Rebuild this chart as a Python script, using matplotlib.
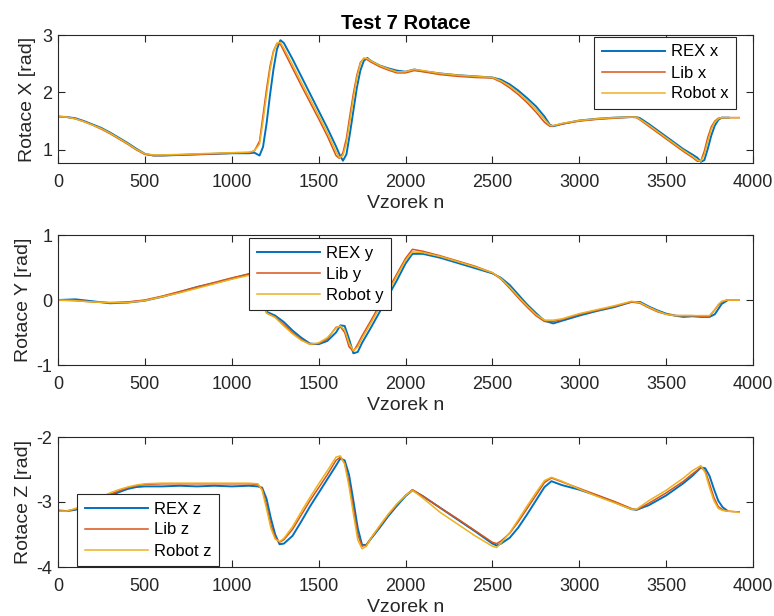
import numpy as np
import matplotlib
matplotlib.use("Agg")
import matplotlib.pyplot as plt

nan = np.nan

# ---------------- Rotace X ----------------
n_x = [0, 50, 100, 150, 200, 250, 300, 350, 400, 450, 500, 550, 600,
       700, 800, 900, 1000, 1100,
       1130, 1160, 1180,
       1200, 1220, 1240, 1260, 1280, 1300,
       1350, 1400, 1450, 1500, 1550, 1600,
       1620, 1640, 1660, 1680, 1700, 1720, 1740, 1760, 1780, 1800,
       1850, 1900, 1950, 2000, 2050, 2100,
       2200, 2300, 2400, 2500,
       2550, 2600, 2650, 2700, 2750, 2800,
       2830, 2850, 2900,
       3000, 3100, 3200, 3300,
       3330, 3350,
       3400, 3450, 3500, 3550, 3600, 3650,
       3680, 3700, 3720, 3740, 3760, 3780, 3800, 3820, 3840, 3860,
       3900, 3920]
rex_x = [1.58, 1.57, 1.55, 1.50, 1.44, 1.38, 1.30, 1.21, 1.12, 1.02, 0.93, 0.90, 0.90,
         0.91, 0.92, 0.93, 0.94, 0.94,
         0.95, 0.90, 1.05,
         1.45, 1.95, 2.40, 2.75, 2.91, 2.86,
         2.58, 2.28, 1.98, 1.68, 1.38, 1.06,
         0.92, 0.81, 0.92, 1.28, 1.68, 2.08, 2.38, 2.55, 2.60, 2.55,
         2.47, 2.42, 2.38, 2.36, 2.40, 2.37,
         2.33, 2.30, 2.28, 2.26,
         2.22, 2.14, 2.03, 1.90, 1.76, 1.58,
         1.44, 1.41, 1.45,
         1.51, 1.54, 1.56, 1.57,
         1.57, 1.55,
         1.45, 1.34, 1.23, 1.12, 1.01, 0.92,
         0.86, 0.79, 0.82, 1.02, 1.25, 1.42, 1.52, 1.56, 1.56, 1.56,
         nan, nan]
lib_x = [1.58, 1.57, 1.54, 1.49, 1.43, 1.36, 1.28, 1.19, 1.10, 1.00, 0.92, 0.90, 0.90,
         0.91, 0.92, 0.93, 0.94, 0.95,
         0.98, 1.15, 1.60,
         2.05, 2.45, 2.72, 2.85, 2.84, 2.72,
         2.42, 2.12, 1.83, 1.54, 1.24, 0.90,
         0.85, 0.95, 1.20, 1.60, 1.98, 2.30, 2.52, 2.59, 2.57, 2.53,
         2.45, 2.39, 2.34, 2.34, 2.38, 2.36,
         2.31, 2.28, 2.26, 2.25,
         2.18, 2.08, 1.96, 1.82, 1.66, 1.48,
         1.41, 1.42, 1.45,
         1.50, 1.53, 1.55, 1.57,
         1.56, 1.52,
         1.41, 1.30, 1.19, 1.08, 0.97, 0.87,
         0.80, 0.81, 0.98, 1.22, 1.40, 1.50, 1.55, 1.56, 1.56, 1.56,
         1.56, 1.56]
robot_x = [1.58, 1.57, 1.54, 1.49, 1.43, 1.37, 1.29, 1.20, 1.11, 1.01, 0.93, 0.91, 0.91,
           0.92, 0.93, 0.94, 0.95, 0.96,
           0.98, 1.10, 1.50,
           1.95, 2.38, 2.70, 2.86, 2.87, 2.77,
           2.48, 2.18, 1.89, 1.60, 1.30, 0.97,
           0.86, 0.90, 1.12, 1.50, 1.90, 2.25, 2.50, 2.60, 2.59, 2.55,
           2.47, 2.41, 2.36, 2.36, 2.40, 2.38,
           2.33, 2.30, 2.28, 2.26,
           2.20, 2.11, 1.99, 1.86, 1.71, 1.53,
           1.43, 1.42, 1.46,
           1.51, 1.54, 1.56, 1.57,
           1.57, 1.53,
           1.43, 1.32, 1.21, 1.10, 0.99, 0.89,
           0.82, 0.80, 0.92, 1.15, 1.36, 1.48, 1.54, 1.56, 1.56, 1.56,
           1.56, 1.56]

# ---------------- Rotace Y ----------------
n_y = [0, 100, 200, 300, 400, 500, 600, 700, 800, 900, 1000, 1100, 1150, 1180,
       1200, 1250, 1300, 1350, 1400, 1450, 1500, 1550, 1600, 1625, 1650, 1675,
       1700, 1725, 1750, 1800, 1850, 1900, 1950, 2000, 2040, 2100, 2200, 2300,
       2400, 2500, 2550, 2600, 2650, 2700, 2750, 2800, 2850, 2900, 3000, 3100,
       3200, 3300, 3350, 3400, 3450, 3500, 3550, 3600, 3650, 3700, 3750, 3780,
       3800, 3820, 3850, 3900, 3920]
rex_y = [0.00, 0.01, -0.02, -0.05, -0.04, -0.01, 0.05, 0.12, 0.20, 0.26, 0.33, 0.40, 0.43, 0.20,
         -0.18, -0.24, -0.34, -0.47, -0.58, -0.67, -0.68, -0.63, -0.50, -0.39, -0.40, -0.60,
         -0.82, -0.80, -0.66, -0.43, -0.19, 0.06, 0.30, 0.56, 0.71, 0.71, 0.65, 0.57,
         0.49, 0.41, 0.34, 0.23, 0.08, -0.07, -0.20, -0.32, -0.36, -0.32, -0.24, -0.17,
         -0.11, -0.03, -0.03, -0.10, -0.16, -0.21, -0.24, -0.26, -0.25, -0.26, -0.26, -0.22,
         -0.14, -0.06, -0.01, nan, nan]
lib_y = [0.00, -0.01, -0.03, -0.04, -0.03, 0.00, 0.06, 0.13, 0.20, 0.27, 0.34, 0.40, 0.43, 0.10,
         -0.20, -0.26, -0.38, -0.50, -0.61, -0.68, -0.67, -0.60, -0.42, -0.41, -0.50, -0.72,
         -0.79, -0.68, -0.55, -0.32, -0.08, 0.16, 0.40, 0.64, 0.78, 0.75, 0.68, 0.60,
         0.52, 0.42, 0.32, 0.18, 0.03, -0.11, -0.24, -0.33, -0.33, -0.30, -0.22, -0.16,
         -0.10, -0.03, -0.05, -0.12, -0.18, -0.22, -0.24, -0.24, -0.24, -0.25, -0.25, -0.15,
         -0.08, -0.03, 0.00, 0.00, 0.00]
robot_y = [0.00, -0.01, -0.03, -0.04, -0.04, -0.01, 0.05, 0.11, 0.18, 0.25, 0.32, 0.38, 0.42, 0.10,
           -0.20, -0.27, -0.40, -0.52, -0.62, -0.68, -0.66, -0.58, -0.43, -0.40, -0.46, -0.66,
           -0.78, -0.72, -0.59, -0.36, -0.12, 0.12, 0.37, 0.61, 0.74, 0.73, 0.67, 0.59,
           0.51, 0.42, 0.33, 0.20, 0.05, -0.09, -0.22, -0.31, -0.31, -0.29, -0.21, -0.15,
           -0.09, -0.02, -0.04, -0.11, -0.17, -0.22, -0.24, -0.24, -0.24, -0.24, -0.24, -0.15,
           -0.07, -0.02, 0.00, 0.00, 0.00]

# ---------------- Rotace Z ----------------
n_z = [0, 50, 100, 150, 200, 250, 300, 350, 400, 450, 500, 600, 700, 800, 900,
       1000, 1100, 1150, 1175, 1200, 1225, 1250, 1275, 1300, 1350, 1400, 1450,
       1500, 1550, 1600, 1625, 1650, 1675, 1700, 1725, 1750, 1775, 1800, 1850,
       1900, 1950, 2000, 2040, 2100, 2200, 2300, 2400, 2500, 2525, 2550, 2600,
       2650, 2700, 2750, 2800, 2840, 2900, 3000, 3100, 3200, 3300, 3330, 3400,
       3500, 3600, 3650, 3700, 3725, 3750, 3775, 3800, 3825, 3850, 3900, 3920]
rex_z = [-3.13, -3.14, -3.12, -3.08, -3.02, -2.96, -2.90, -2.85, -2.80, -2.77, -2.76, -2.76, -2.75, -2.76, -2.75,
         -2.76, -2.75, -2.76, -2.78, -2.95, -3.25, -3.50, -3.65, -3.64, -3.52, -3.30, -3.07,
         -2.86, -2.65, -2.44, -2.33, -2.36, -2.58, -2.98, -3.40, -3.66, -3.66, -3.57, -3.40,
         -3.22, -3.06, -2.91, -2.82, -2.91, -3.09, -3.27, -3.45, -3.64, -3.67, -3.64, -3.55,
         -3.39, -3.19, -2.98, -2.77, -2.68, -2.74, -2.81, -2.90, -3.00, -3.11, -3.12, -3.05,
         -2.90, -2.71, -2.60, -2.47, -2.48, -2.60, -2.80, -2.98, -3.08, -3.13, nan, nan]
lib_z = [-3.14, -3.14, -3.11, -3.06, -3.00, -2.94, -2.88, -2.83, -2.78, -2.75, -2.73, -2.72, -2.72, -2.72, -2.72,
         -2.72, -2.72, -2.73, -2.80, -3.05, -3.35, -3.55, -3.62, -3.58, -3.42, -3.20, -2.98,
         -2.78, -2.58, -2.36, -2.31, -2.40, -2.70, -3.10, -3.50, -3.68, -3.66, -3.56, -3.38,
         -3.20, -3.04, -2.90, -2.81, -2.91, -3.09, -3.26, -3.44, -3.62, -3.64, -3.60, -3.48,
         -3.30, -3.10, -2.90, -2.70, -2.63, -2.69, -2.79, -2.89, -2.99, -3.10, -3.12, -3.02,
         -2.86, -2.68, -2.57, -2.47, -2.52, -2.72, -2.93, -3.07, -3.12, -3.14, -3.15, -3.15]
robot_z = [-3.14, -3.14, -3.10, -3.04, -2.98, -2.92, -2.86, -2.81, -2.77, -2.74, -2.72, -2.71, -2.71, -2.71, -2.71,
           -2.71, -2.71, -2.72, -2.82, -3.10, -3.40, -3.57, -3.61, -3.56, -3.38, -3.15, -2.93,
           -2.72, -2.52, -2.31, -2.29, -2.42, -2.76, -3.18, -3.58, -3.72, -3.68, -3.56, -3.37,
           -3.19, -3.03, -2.90, -2.82, -2.94, -3.16, -3.34, -3.52, -3.68, -3.70, -3.63, -3.47,
           -3.27, -3.06, -2.86, -2.67, -2.62, -2.68, -2.80, -2.91, -3.01, -3.11, -3.11, -2.98,
           -2.82, -2.63, -2.52, -2.44, -2.55, -2.78, -2.98, -3.10, -3.13, -3.14, -3.15, -3.16]

x_ticks = [0, 500, 1000, 1500, 2000, 2500, 3000, 3500, 4000]
title_text = "Test 7 Rotace"
x_label = "Vzorek n"
y_labels = ["Rotace X [rad]", "Rotace Y [rad]", "Rotace Z [rad]"]
legend_labels = [["REX x", "Lib x", "Robot x"],
                 ["REX y", "Lib y", "Robot y"],
                 ["REX z", "Lib z", "Robot z"]]
y_limits = [(0.77, 3.0), (-1.0, 1.0), (-4.0, -2.0)]
y_ticks = [[1, 2, 3], [-1, 0, 1], [-4, -3, -2]]

for a, b in [(n_x, rex_x), (n_x, lib_x), (n_x, robot_x), (n_y, rex_y), (n_y, lib_y),
             (n_y, robot_y), (n_z, rex_z), (n_z, lib_z), (n_z, robot_z)]:
    assert len(a) == len(b), (len(a), len(b))

plt.rcParams['font.family'] = ['Liberation Sans', 'DejaVu Sans']
plt.rcParams['axes.unicode_minus'] = False
TXT = '#262626'
C_REX, C_LIB, C_ROB = '#0072BD', '#D95319', '#EDB120'

W, H = 774, 616
fig = plt.figure(figsize=(W / 100, H / 100), dpi=100)

# axes pixel boxes (left, top, right, bottom)
boxes = [(58, 35, 753, 163), (58, 235, 753, 365), (58, 437, 753, 567)]
legend_anchor = [('upper right', (736, 37)), ('upper left', (249, 238)), ('lower left', (77, 566))]
ylabel_right_px = [36, 32, 32]

data = [(n_x, rex_x, lib_x, robot_x), (n_y, rex_y, lib_y, robot_y), (n_z, rex_z, lib_z, robot_z)]

for i, (box, (n, r, l, b)) in enumerate(zip(boxes, data)):
    L, T, R, B = box
    ax = fig.add_axes([L / W, 1 - B / H, (R - L) / W, (B - T) / H])
    ax.plot(n, r, color=C_REX, lw=1.4, label=legend_labels[i][0])
    ax.plot(n, l, color=C_LIB, lw=1.1, label=legend_labels[i][1])
    ax.plot(n, b, color=C_ROB, lw=1.1, label=legend_labels[i][2])
    ax.set_xlim(0, 4000)
    ax.set_ylim(*y_limits[i])
    ax.set_xticks(x_ticks)
    ax.set_yticks(y_ticks[i])
    ax.tick_params(direction='in', length=5, width=0.8, top=True, right=True,
                   labelsize=13, colors=TXT)
    ax.tick_params(axis='x', pad=8)
    ax.tick_params(axis='y', pad=4)
    for s in ax.spines.values():
        s.set_color(TXT)
        s.set_linewidth(0.8)
    ax.set_xlabel(x_label, fontsize=14, color=TXT, labelpad=2.5)
    ax.set_ylabel(y_labels[i], fontsize=14, color=TXT)
    ax.yaxis.set_label_coords((ylabel_right_px[i] - L) / (R - L), 0.5)
    if i == 0:
        ax.set_title(title_text, fontsize=14.5, fontweight='bold', color='black', pad=4)
    loc, (px, py) = legend_anchor[i]
    ax_x = (px - L) / (R - L)
    ax_y = (B - py) / (B - T)
    leg = ax.legend(loc=loc, bbox_to_anchor=(ax_x, ax_y), borderaxespad=0,
                    fontsize=12, handlelength=3.8, handletextpad=0.35,
                    labelspacing=0.36, borderpad=0.45, fancybox=False,
                    framealpha=1, edgecolor=TXT)
    leg.get_frame().set_linewidth(0.8)
    for t in leg.get_texts():
        t.set_color('black')

fig.savefig('out.png', dpi=100)
